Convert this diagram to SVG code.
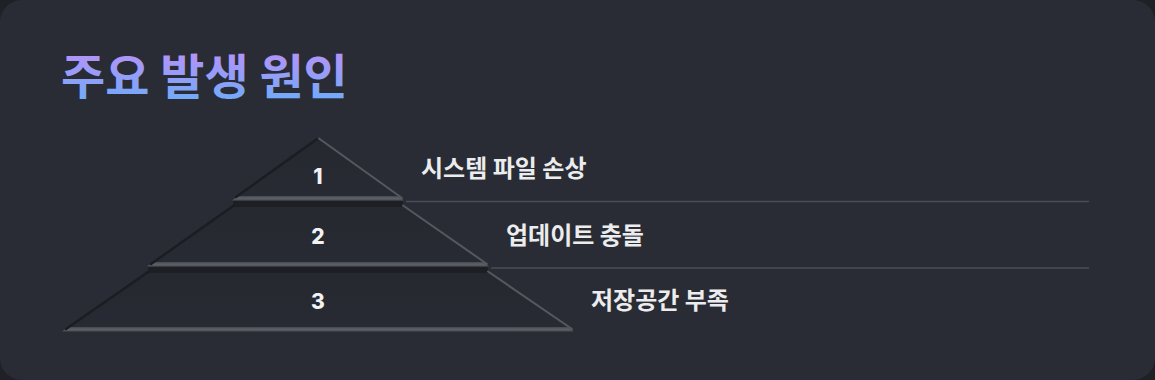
<svg xmlns="http://www.w3.org/2000/svg" width="1155" height="380" viewBox="0 0 1155 380">
<defs>
<linearGradient id="tg" x1="0" y1="0" x2="0" y2="1">
<stop offset="0" stop-color="#c98cf8"/>
<stop offset="1" stop-color="#66aef9"/>
</linearGradient>
<linearGradient id="band" x1="0" y1="0" x2="0" y2="1">
<stop offset="0" stop-color="#45484e"/>
<stop offset="0.5" stop-color="#5e6167"/>
<stop offset="1" stop-color="#4a4d53"/>
</linearGradient>
<linearGradient id="fillg" x1="0" y1="0" x2="0" y2="1">
<stop offset="0" stop-color="#25282f"/>
<stop offset="1" stop-color="#282b33"/>
</linearGradient>
<style>
.layer{fill:url(#fillg);}
.band{fill:url(#band);}
.shadowL{fill:none;stroke:#1b1d22;stroke-width:2.5;stroke-linecap:round;}
.hiR{fill:none;stroke:#55585f;stroke-width:2;stroke-linecap:round;}
.under{fill:none;stroke:#1d1f24;stroke-width:3;}
.num{font-family:Inter,"Noto Sans","Liberation Sans",sans-serif;font-weight:800;font-size:21px;fill:#f2f2f4;text-anchor:middle;}
.lbl{font-family:"Noto Sans CJK KR","Noto Sans",sans-serif;font-weight:700;font-size:24px;fill:#ececee;}
.conn{stroke:#4a4d55;stroke-width:1.6;fill:none;}
</style>
</defs>
<rect x="0" y="0" width="1155" height="380" fill="#1f2126"/>
<rect x="0" y="0" width="1155" height="380" rx="22" fill="#292c34"/>
<text x="61" y="94" font-family="'Noto Sans CJK KR','Noto Sans',sans-serif" font-weight="700" font-size="48" fill="url(#tg)">주요 발생 원인</text>
<g id="connectors">
<line class="conn" x1="406" y1="201.5" x2="1089" y2="201.5"/>
<line class="conn" x1="491" y1="268" x2="1089" y2="268"/>
</g>
<g id="layer1">
<path class="layer" d="M318,138 L403,200 L233,200 Z"/>
<path class="band" d="M238,196 L398,196 L404,200.5 L232,200.5 Z"/>
<path class="under" d="M233,202.5 L403,202.5"/>
<path class="shadowL" d="M317,139 L236,197"/>
<path class="hiR" d="M319,138.5 L402,198"/>
<text class="num" x="318" y="184">1</text>
<text class="lbl" x="421" y="177">시스템 파일 손상</text>
</g>
<g id="layer2">
<path class="layer" d="M233,205 L403,205 L488,266 L148,266 Z"/>
<path class="under" d="M233,205.5 L403,205.5"/>
<path class="band" d="M153,262 L483,262 L489,266.5 L147,266.5 Z"/>
<path class="under" d="M148,268.5 L488,268.5"/>
<path class="shadowL" d="M233,206 L151,264"/>
<path class="hiR" d="M403,205.5 L487,264"/>
<text class="num" x="318" y="244">2</text>
<text class="lbl" x="506" y="244">업데이트 충돌</text>
</g>
<g id="layer3">
<path class="layer" d="M148,271 L488,271 L573,331 L63,331 Z"/>
<path class="under" d="M148,271.5 L488,271.5"/>
<path class="band" d="M68,327 L568,327 L574,331.5 L62,331.5 Z"/>
<path class="shadowL" d="M148,272 L66,329"/>
<path class="hiR" d="M488,271.5 L572,329"/>
<text class="num" x="318" y="309">3</text>
<text class="lbl" x="591" y="309">저장공간 부족</text>
</g>
</svg>
